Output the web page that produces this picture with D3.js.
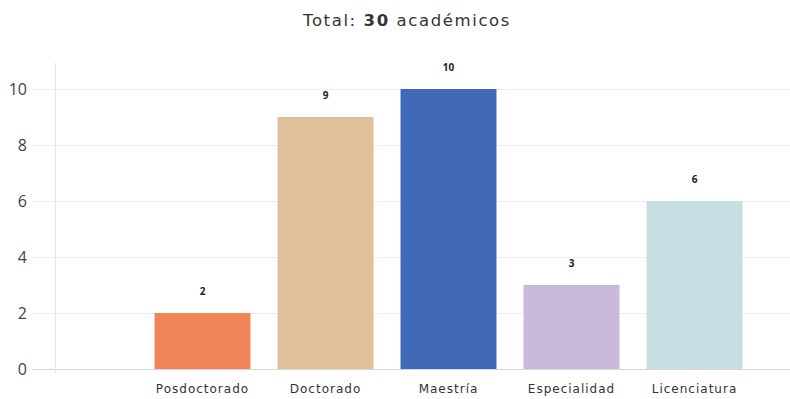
<!DOCTYPE html>
<html>
<head>
<meta charset="utf-8">
<script src="https://cdn.jsdelivr.net/npm/d3@7"></script>
<style>
  html, body { margin: 0; padding: 0; background: #fff; }
  svg { display: block; font-family: "Open Sans", "Noto Sans", sans-serif; }
</style>
</head>
<body>
<svg id="chart" width="790" height="399"></svg>
<script>
const categories = ["", "Posdoctorado", "Doctorado", "Maestría", "Especialidad", "Licenciatura"];
const values = [null, 2, 9, 10, 3, 6];
const colors = ["none", "#f08558", "#e0c09a", "#4169b8", "#c9b9dd", "#c5dfe2"];
const yTicks = [0, 2, 4, 6, 8, 10];
const totalLabel = "30";

const svg = d3.select("#chart");
const W = 790;

const x = d3.scaleBand().domain(categories).range([18, 756]).paddingInner(0.22).paddingOuter(0.11);
const y = d3.scaleLinear().domain([0, 10]).range([369, 89]);

// title
const title = svg.append("text")
  .attr("x", 407).attr("y", 26)
  .attr("text-anchor", "middle")
  .attr("font-family", "'DejaVu Sans', sans-serif")
  .attr("letter-spacing", 1.6)
  .attr("font-size", 16.5).attr("fill", "#333");
title.append("tspan").text("Total: ");
title.append("tspan").attr("font-weight", "bold").text(totalLabel);
title.append("tspan").text(" académicos");

// gridlines
svg.append("g").selectAll("line").data(yTicks).join("line")
  .attr("x1", 33).attr("x2", W)
  .attr("y1", d => y(d) + 0.5).attr("y2", d => y(d) + 0.5)
  .attr("stroke", d => d === 0 ? "#d6d6d6" : "#ebebeb").attr("stroke-width", 1);

// vertical axis line
svg.append("line")
  .attr("x1", 55.5).attr("x2", 55.5)
  .attr("y1", 63).attr("y2", y(0) + 4)
  .attr("stroke", "#e6e6e6");

// y tick labels
svg.append("g").selectAll("text").data(yTicks).join("text")
  .attr("x", 27).attr("y", d => y(d))
  .attr("dy", "0.35em")
  .attr("text-anchor", "end")
  .attr("font-size", 16).attr("fill", "#444")
  .text(d => d);

// bars
const data = categories.map((c, i) => ({ c, v: values[i], col: colors[i] })).filter(d => d.v != null);

svg.append("g").selectAll("rect").data(data).join("rect")
  .attr("x", d => x(d.c))
  .attr("width", x.bandwidth())
  .attr("y", d => y(d.v))
  .attr("height", d => y(0) - y(d.v))
  .attr("fill", d => d.col);

// value labels
svg.append("g").selectAll("text").data(data).join("text")
  .attr("x", d => x(d.c) + x.bandwidth() / 2)
  .attr("y", d => y(d.v) - 18)
  .attr("text-anchor", "middle")
  .attr("font-size", 10).attr("font-weight", "bold").attr("fill", "#222")
  .text(d => d.v);

// x labels
svg.append("g").selectAll("text").data(data).join("text")
  .attr("x", d => x(d.c) + x.bandwidth() / 2)
  .attr("y", 393)
  .attr("text-anchor", "middle")
  .attr("font-family", "'DejaVu Sans', sans-serif")
  .attr("letter-spacing", 1)
  .attr("font-size", 12).attr("fill", "#333")
  .text(d => d.c);
</script>
</body>
</html>
